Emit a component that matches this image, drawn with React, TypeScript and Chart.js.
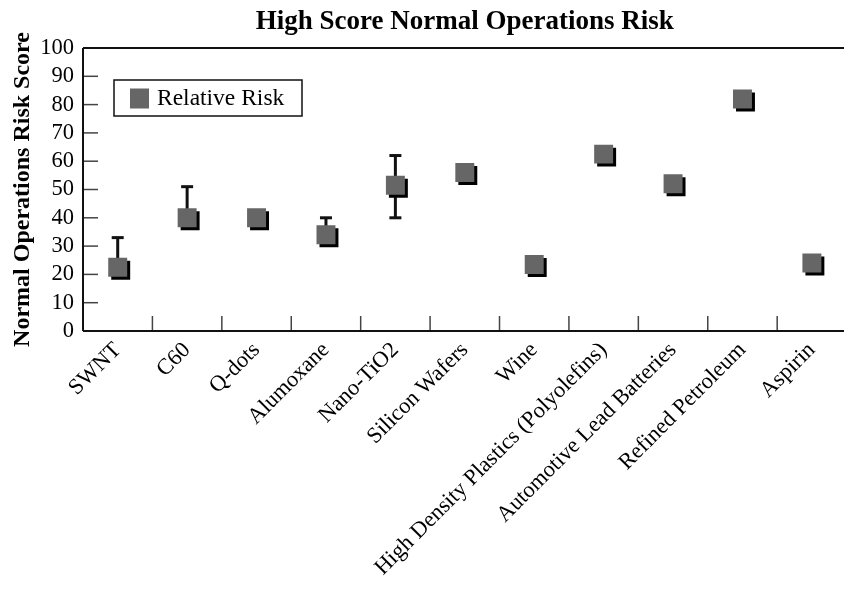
import React, { useEffect, useRef } from 'react';
import { Chart, registerables } from 'chart.js';

Chart.register(...registerables);

const FONT = "'Liberation Serif', 'Times New Roman', Times, serif";

const chartTitle = 'High Score Normal Operations Risk';
const yAxisTitle = 'Normal Operations Risk Score';
const seriesLabel = 'Relative Risk';

const categories = [
  'SWNT',
  'C60',
  'Q-dots',
  'Alumoxane',
  'Nano-TiO2',
  'Silicon Wafers',
  'Wine',
  'High Density Plastics (Polyolefins)',
  'Automotive Lead Batteries',
  'Refined Petroleum',
  'Aspirin',
];

const relativeRisk = [22.5, 40, 40, 34, 51.5, 56, 23.5, 62.5, 52, 82, 24];
const errorHigh: (number | null)[] = [33, 51, null, 40, 62, null, null, null, null, null, null];
const errorLow: (number | null)[] = [null, null, null, null, 40, null, null, null, null, null, null];

const yMin = 0;
const yMax = 100;
const yStep = 10;

const decorPlugin = {
  id: 'decor',
  beforeDatasetsDraw(chart: any) {
    const { ctx, chartArea: a, scales } = chart;
    const x = scales.x;
    const y = scales.y;
    const line = (x1: number, y1: number, x2: number, y2: number) => {
      ctx.beginPath();
      ctx.moveTo(x1, y1);
      ctx.lineTo(x2, y2);
      ctx.stroke();
    };
    ctx.save();
    // inside tick marks
    ctx.strokeStyle = '#444';
    ctx.lineWidth = 1.5;
    y.ticks.forEach((_t: any, i: number) => {
      const py = y.getPixelForTick(i);
      line(a.left, py, a.left + 15, py);
    });
    for (let i = 1; i < x.ticks.length; i++) {
      const px = (x.getPixelForTick(i - 1) + x.getPixelForTick(i)) / 2;
      line(px, a.bottom, px, a.bottom - 15);
    }
    // frame
    ctx.strokeStyle = '#111';
    ctx.lineWidth = 2;
    line(a.left, a.top, a.right, a.top);
    line(a.left, a.top, a.left, a.bottom);
    line(a.left, a.bottom, a.right, a.bottom);
    line(a.right, a.top, a.right, a.bottom);
    // error bars
    ctx.strokeStyle = '#111';
    ctx.lineWidth = 3;
    relativeRisk.forEach((v, i) => {
      const px = x.getPixelForValue(i);
      const pv = y.getPixelForValue(v);
      const hi = errorHigh[i];
      const lo = errorLow[i];
      if (hi != null) {
        const ph = y.getPixelForValue(hi);
        line(px, pv, px, ph);
        line(px - 6, ph, px + 6, ph);
      }
      if (lo != null) {
        const pl = y.getPixelForValue(lo);
        line(px, pv, px, pl);
        line(px - 6, pl, px + 6, pl);
      }
    });
    ctx.restore();
    // drop shadow for markers
    ctx.save();
    ctx.shadowColor = '#000';
    ctx.shadowOffsetX = 3;
    ctx.shadowOffsetY = 3;
    ctx.shadowBlur = 0;
  },
  afterDatasetsDraw(chart: any) {
    const { ctx, chartArea: a } = chart;
    ctx.restore();
    // legend box inside plot
    const bx = a.left + 31;
    const by = a.top + 32;
    const bw = 188;
    const bh = 36;
    ctx.save();
    ctx.fillStyle = '#fff';
    ctx.fillRect(bx, by, bw, bh);
    ctx.strokeStyle = '#111';
    ctx.lineWidth = 1.5;
    ctx.strokeRect(bx, by, bw, bh);
    ctx.fillStyle = '#666';
    ctx.fillRect(bx + 16, by + 8.5, 19, 20);
    ctx.fillStyle = '#000';
    ctx.font = `23.5px ${FONT}`;
    ctx.textBaseline = 'middle';
    ctx.textAlign = 'left';
    ctx.fillText(chart.data.datasets[0].label, bx + 43, by + bh / 2 + 1);
    ctx.restore();
  },
};

export default function App() {
  const ref = useRef<HTMLCanvasElement>(null);

  useEffect(() => {
    document.body.style.margin = '0';
    const canvas = ref.current!;
    const chart = new Chart(canvas, {
      type: 'line',
      data: {
        labels: categories,
        datasets: [
          {
            label: seriesLabel,
            data: relativeRisk,
            showLine: false,
            pointStyle: 'rect',
            pointRadius: 13.4,
            pointHoverRadius: 13.4,
            pointBackgroundColor: '#666',
            backgroundColor: '#666',
            borderColor: '#666',
            pointBorderWidth: 0,
            borderWidth: 0,
          },
        ],
      },
      options: {
        responsive: false,
        animation: false,
        layout: { padding: { left: 0, right: 0, top: 0, bottom: 0 } },
        plugins: {
          legend: { display: false },
          tooltip: { enabled: false },
          title: {
            display: true,
            text: chartTitle,
            color: '#000',
            fullSize: false,
            font: { family: FONT, size: 27, weight: 'bold' },
            padding: { top: 6, bottom: 9.6 },
          },
        },
        scales: {
          x: {
            type: 'category',
            offset: true,
            grid: { display: false, drawTicks: false },
            border: { display: false },
            ticks: {
              color: '#000',
              font: { family: FONT, size: 22.5 },
              minRotation: 45,
              maxRotation: 45,
              autoSkip: false,
              padding: 6,
            },
            afterFit: (s: any) => {
              s.height = 258;
              s.paddingLeft = 0;
              s.paddingRight = 0;
            },
          },
          y: {
            min: yMin,
            max: yMax,
            grid: { display: false, drawTicks: false },
            border: { display: false },
            ticks: {
              stepSize: yStep,
              autoSkip: false,
              color: '#000',
              font: { family: FONT, size: 22.5 },
              padding: 9,
            },
            title: {
              display: true,
              text: yAxisTitle,
              color: '#000',
              font: { family: FONT, size: 24, weight: 'bold' },
              padding: { top: 8.5, bottom: 0 },
            },
            afterFit: (s: any) => {
              s.width = 83;
            },
          },
        },
      },
      plugins: [decorPlugin],
    });
    return () => chart.destroy();
  }, []);

  return (
    <div
      style={{
        position: 'absolute',
        left: 0,
        top: 0,
        width: 844,
        height: 589,
        overflow: 'hidden',
        background: '#fff',
      }}
    >
      <canvas ref={ref} width={860} height={589} style={{ width: 860, height: 589, display: 'block' }} />
    </div>
  );
}
